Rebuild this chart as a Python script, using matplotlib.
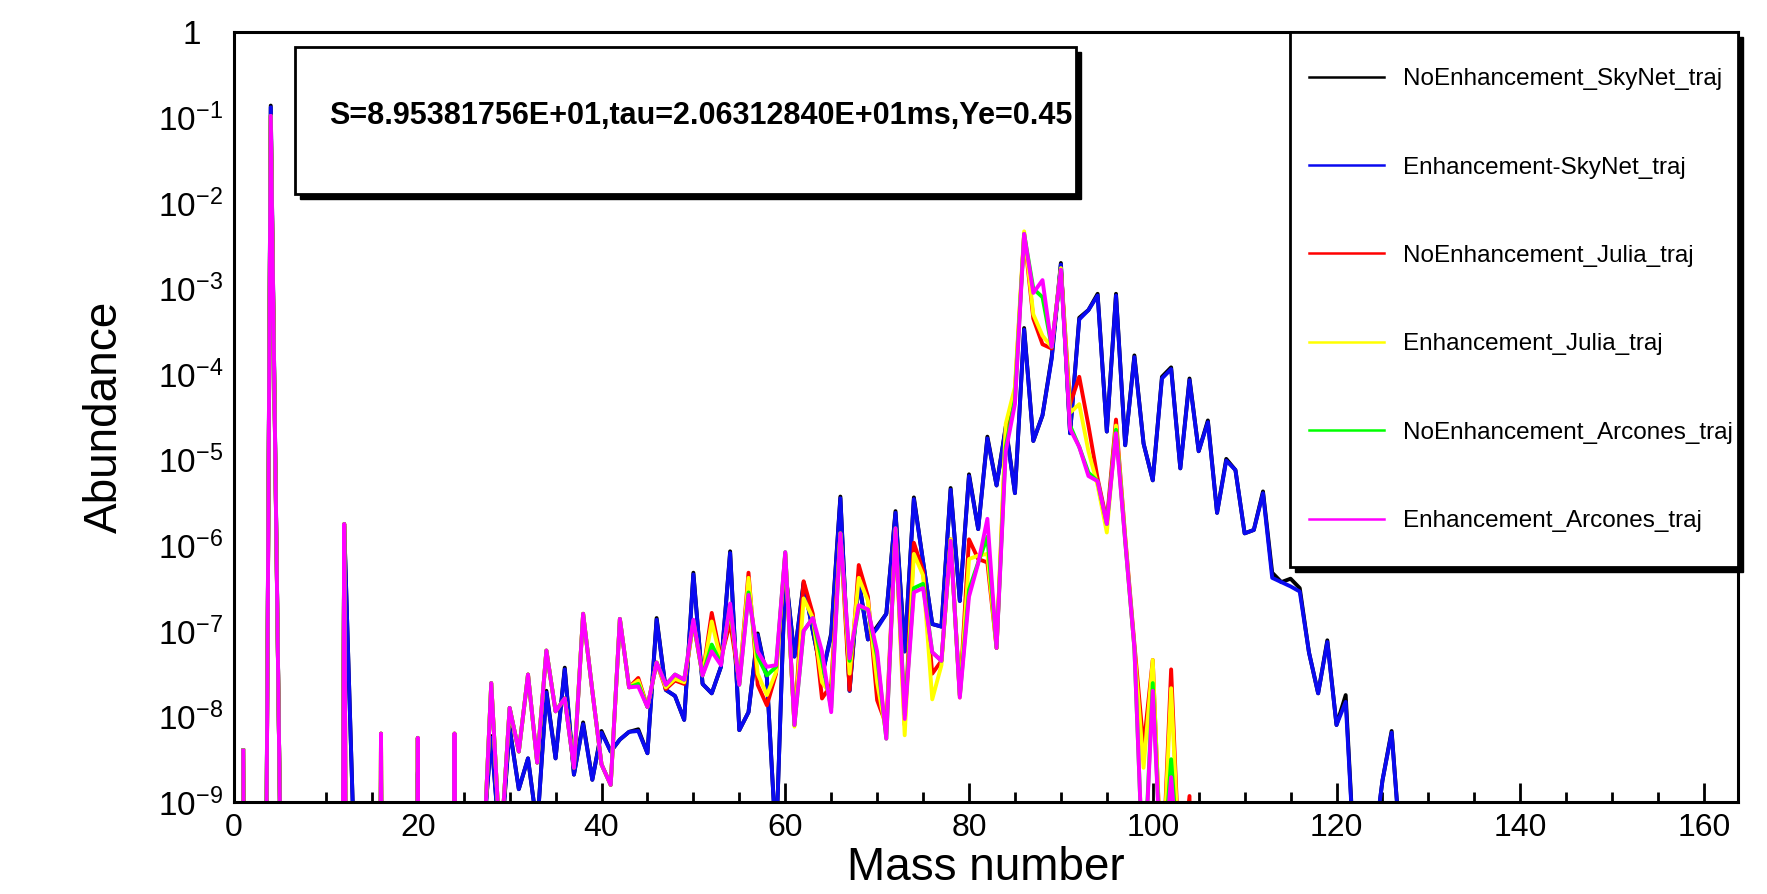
import numpy as np
import matplotlib
matplotlib.use('Agg')
import matplotlib.pyplot as plt
import matplotlib.transforms as mtransforms
from matplotlib.patches import Rectangle

plt.rcParams['font.family'] = ['Liberation Sans', 'DejaVu Sans']
plt.rcParams['mathtext.default'] = 'regular'

# log10 of abundance; -30 means "nothing there"
mass_skynet = np.arange(1, 131)
mass_julia = np.arange(1, 106)

log_enh_skynet = [
    -8.40, -30, -19, -0.88, -9.1, -30, -30, -30, -30, -30,
    -30, -5.78, -9.3, -30, -30, -8.6, -30, -30, -30, -8.65,
    -30, -30, -30, -8.6, -30, -30, -9.6, -8.25, -9.6, -8.15,
    -8.85, -8.49, -9.3, -7.72, -8.49, -7.45, -8.68, -8.09, -8.74, -8.19,
    -8.41, -8.27, -8.18, -8.17, -8.43, -6.87, -7.69, -7.76, -8.04, -6.34,
    -7.62, -7.73, -7.42, -6.09, -8.16, -7.95, -7.05, -7.55, -9.5, -6.3,
    -7.3, -6.45, -7.0, -7.53, -7.05, -5.45, -7.7, -6.42, -7.1, -6.97,
    -6.8, -5.62, -7.24, -5.46, -6.19, -6.92, -6.95, -5.35, -6.65, -5.19,
    -5.81, -4.75, -5.30, -4.63, -5.39, -3.48, -4.78, -4.48, -3.82, -2.72,
    -4.69, -3.36, -3.25, -3.08, -4.67, -3.08, -4.83, -3.80, -4.81, -5.24,
    -4.05, -3.94, -5.10, -4.07, -4.90, -4.56, -5.62, -5.01, -5.12, -5.86,
    -5.82, -5.39, -6.38, -6.43, -6.48, -6.54, -7.25, -7.73, -7.13, -8.10,
    -7.83, -9.8, -30, -9.6, -8.75, -8.19, -9.6, -30, -30, -30,
]

log_noenh_skynet = [
    -8.40, -30, -19, -0.86, -9.1, -30, -30, -30, -30, -30,
    -30, -5.78, -9.3, -30, -30, -8.62, -30, -30, -30, -8.67,
    -30, -30, -30, -8.62, -30, -30, -9.6, -8.23, -9.6, -8.13,
    -8.85, -8.49, -9.3, -7.70, -8.49, -7.43, -8.68, -8.07, -8.74, -8.17,
    -8.41, -8.27, -8.18, -8.15, -8.43, -6.85, -7.69, -7.76, -8.04, -6.32,
    -7.62, -7.73, -7.42, -6.07, -8.16, -7.95, -7.03, -7.55, -9.5, -6.28,
    -7.3, -6.43, -7.0, -7.53, -7.03, -5.43, -7.7, -6.40, -7.1, -6.95,
    -6.8, -5.60, -7.24, -5.44, -6.19, -6.92, -6.95, -5.33, -6.65, -5.17,
    -5.81, -4.73, -5.30, -4.61, -5.39, -3.46, -4.78, -4.48, -3.80, -2.70,
    -4.69, -3.34, -3.25, -3.06, -4.67, -3.06, -4.83, -3.78, -4.81, -5.24,
    -4.03, -3.92, -5.10, -4.05, -4.90, -4.54, -5.62, -4.99, -5.12, -5.86,
    -5.82, -5.37, -6.32, -6.43, -6.39, -6.50, -7.25, -7.73, -7.11, -8.10,
    -7.75, -9.8, -30, -9.6, -8.75, -8.17, -9.6, -30, -30, -30,
]

log_noenh_julia = [
    -8.40, -30, -19, -0.98, -9.1, -30, -30, -30, -30, -30,
    -30, -5.75, -30, -30, -30, -8.2, -30, -30, -30, -8.25,
    -30, -30, -30, -8.2, -30, -30, -10, -7.61, -9.6, -7.90,
    -8.41, -7.51, -8.54, -7.23, -7.94, -7.79, -8.6, -6.80, -7.7, -8.56,
    -8.80, -6.86, -7.66, -7.55, -7.89, -7.37, -7.68, -7.58, -7.62, -6.9,
    -7.52, -6.79, -7.32, -6.9, -7.6, -6.32, -7.63, -7.87, -7.5, -6.1,
    -8.1, -6.42, -6.8, -7.79, -7.63, -5.86, -7.69, -6.23, -6.6, -7.81,
    -8.1, -5.82, -8.1, -5.97, -6.3, -7.5, -7.35, -5.93, -7.75, -5.93,
    -6.16, -6.2, -7.2, -4.7, -4.2, -2.36, -3.35, -3.65, -3.7, -2.77,
    -4.35, -4.03, -4.6, -5.22, -5.72, -4.53, -5.9, -7.15, -8.36, -7.34,
    -10, -7.45, -10, -8.93, -30,
]

log_enh_julia = [
    -8.40, -30, -19, -0.98, -9.1, -30, -30, -30, -30, -30,
    -30, -5.75, -30, -30, -30, -8.2, -30, -30, -30, -8.25,
    -30, -30, -30, -8.2, -30, -30, -10, -7.61, -9.6, -7.90,
    -8.41, -7.51, -8.54, -7.23, -7.94, -7.79, -8.55, -6.80, -7.7, -8.56,
    -8.80, -6.86, -7.66, -7.58, -7.89, -7.37, -7.66, -7.56, -7.6, -6.9,
    -7.52, -6.89, -7.35, -6.75, -7.62, -6.38, -7.5, -7.75, -7.48, -6.1,
    -8.12, -6.62, -6.85, -7.6, -7.75, -5.86, -7.5, -6.38, -6.65, -7.6,
    -8.2, -5.82, -8.22, -6.1, -6.35, -7.8, -7.4, -5.93, -7.78, -6.16,
    -6.12, -6.1, -7.2, -4.58, -4.15, -2.33, -3.3, -3.55, -3.68, -2.76,
    -4.45, -4.35, -4.9, -5.3, -5.85, -4.6, -5.92, -7.2, -8.6, -7.34,
    -10, -7.67, -10, -30, -30,
]

log_noenh_arcones = [
    -8.40, -30, -19, -0.98, -9.1, -30, -30, -30, -30, -30,
    -30, -5.75, -30, -30, -30, -8.2, -30, -30, -30, -8.25,
    -30, -30, -30, -8.2, -30, -30, -10, -7.61, -9.6, -7.90,
    -8.41, -7.51, -8.54, -7.23, -7.94, -7.79, -8.6, -6.80, -7.7, -8.56,
    -8.80, -6.86, -7.66, -7.62, -7.89, -7.37, -7.63, -7.51, -7.57, -6.88,
    -7.52, -7.16, -7.38, -6.7, -7.63, -6.55, -7.3, -7.52, -7.42, -6.08,
    -8.1, -7.0, -6.85, -7.35, -7.9, -5.86, -7.35, -6.72, -6.75, -7.3,
    -8.26, -5.80, -7.98, -6.5, -6.45, -7.25, -7.35, -5.95, -7.76, -6.52,
    -6.2, -5.9, -7.2, -4.85, -4.3, -2.36, -3.0, -3.1, -3.68, -2.78,
    -4.6, -4.85, -5.15, -5.25, -5.75, -4.65, -5.95, -7.2, -10, -7.61,
    -10, -8.5, -10, -30, -30,
]

log_enh_arcones = [
    -8.40, -30, -19, -0.98, -9.1, -30, -30, -30, -30, -30,
    -30, -5.75, -30, -30, -30, -8.2, -30, -30, -30, -8.25,
    -30, -30, -30, -8.2, -30, -30, -10, -7.61, -9.6, -7.90,
    -8.41, -7.51, -8.54, -7.23, -7.94, -7.79, -8.60, -6.80, -7.7, -8.56,
    -8.80, -6.86, -7.66, -7.65, -7.89, -7.37, -7.63, -7.51, -7.57, -6.87,
    -7.52, -7.24, -7.40, -6.68, -7.63, -6.58, -7.24, -7.42, -7.40, -6.08,
    -8.10, -7.0, -6.85, -7.24, -7.95, -5.86, -7.32, -6.70, -6.75, -7.24,
    -8.26, -5.80, -8.03, -6.55, -6.5, -7.25, -7.35, -5.95, -7.78, -6.6,
    -6.21, -5.69, -7.2, -4.9, -4.35, -2.36, -3.05, -2.90, -3.68, -2.78,
    -4.64, -4.85, -5.19, -5.25, -5.75, -4.69, -5.95, -7.2, -10, -7.70,
    -10, -8.71, -10, -30, -30,
]

series = [
    (mass_skynet, log_noenh_skynet, 'black', 'NoEnhancement_SkyNet_traj'),
    (mass_skynet, log_enh_skynet, '#0a0af0', 'Enhancement-SkyNet_traj'),
    (mass_julia, log_noenh_julia, '#ff0000', 'NoEnhancement_Julia_traj'),
    (mass_julia, log_enh_julia, '#ffff00', 'Enhancement_Julia_traj'),
    (mass_julia, log_noenh_arcones, '#00ff00', 'NoEnhancement_Arcones_traj'),
    (mass_julia, log_enh_arcones, '#ff00ff', 'Enhancement_Arcones_traj'),
]

info = 'S=8.95381756E+01,tau=2.06312840E+01ms,Ye=0.45'

W, H = 1767, 894
fig = plt.figure(figsize=(W / 100, H / 100), dpi=100)
ax = fig.add_axes([234 / W, 1 - 802 / H, (1738 - 234) / W, (802 - 32) / H])

for m, lv, c, lab in series:
    ax.plot(m, 10 ** np.array(lv), color=c, lw=2.8, label=lab)

ax.set_yscale('log')
ax.set_ylim(1e-9, 1)
ax.set_xlim(0, 163.7)

yt = [10.0 ** k for k in range(-9, 1)]
ax.set_yticks(yt)
ax.set_yticklabels(['$10^{%d}$' % k for k in range(-9, 0)] + ['1'])
ax.minorticks_off()
ax.set_xticks(range(0, 161, 20))
ax.set_xticks(range(0, 161, 5), minor=True)
ax.tick_params(axis='x', which='major', direction='in', length=14, width=2,
               labelsize=23, pad=8)
ax.tick_params(axis='x', which='minor', direction='in', length=7, width=2)
ax.tick_params(axis='y', length=0, labelsize=24, pad=8)
for s in ax.spines.values():
    s.set_linewidth(2.2)

# the top "1" sits under the "10" of the other labels
top_lab = ax.get_yticklabels()[-1]
top_lab.set_transform(top_lab.get_transform() +
                      mtransforms.ScaledTranslation(-0.22, 0, fig.dpi_scale_trans))

ax.set_xlabel('Mass number', fontsize=33, labelpad=2)
ax.set_ylabel('Abundance', fontsize=33, labelpad=22)

# parameter box with a hard black shadow
dx, dy = 5 / 1504, 5 / 770
ax.add_patch(Rectangle((0.0406 + dx, 0.790 - dy), 0.519, 0.1905,
                       transform=ax.transAxes, facecolor='black',
                       edgecolor='black', zorder=5))
ax.add_patch(Rectangle((0.0406, 0.790), 0.519, 0.1905,
                       transform=ax.transAxes, facecolor='white',
                       edgecolor='black', lw=2, zorder=6))
ax.text(0.0632, 0.891, info, transform=ax.transAxes, fontsize=22,
        fontweight='bold', va='center', ha='left', zorder=7)

# legend box, same shadow treatment
lx, lb = 0.702, 0.305
ax.add_patch(Rectangle((lx + dx, lb - dy), 1 - lx, 1 - lb,
                       transform=ax.transAxes, facecolor='black',
                       edgecolor='black', zorder=5, clip_on=False))
ax.add_patch(Rectangle((lx, lb), 1 - lx, 1 - lb, transform=ax.transAxes,
                       facecolor='white', edgecolor='black', lw=2,
                       zorder=6, clip_on=False))
leg = ax.legend(loc='upper left', bbox_to_anchor=(0.7148, 0.953),
                borderaxespad=0, borderpad=0, frameon=False, fontsize=17.5,
                labelspacing=2.73, handlelength=3.1, handletextpad=0.75)
leg.set_zorder(8)
for h in leg.get_lines():
    h.set_linewidth(1.8)

fig.savefig('out.png', dpi=100)
